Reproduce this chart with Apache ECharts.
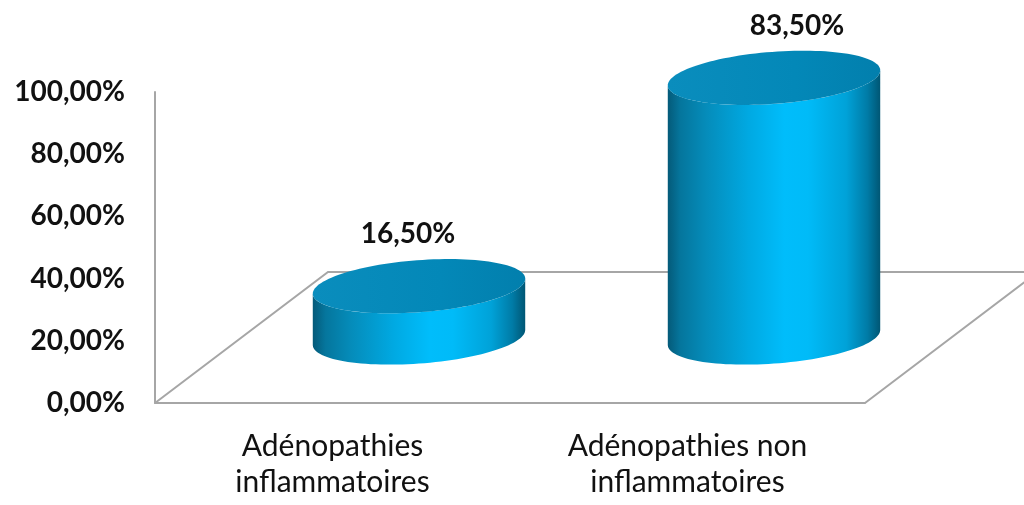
<!DOCTYPE html>
<html>
<head>
<meta charset="utf-8">
<script src="https://cdn.jsdelivr.net/npm/echarts@6/dist/echarts.min.js"></script>
<style>
  html, body { margin: 0; padding: 0; background: #fff; }
  #chart { width: 1024px; height: 505px; }
</style>
</head>
<body>
<div id="chart"></div>
<script>
// Share of lymphadenopathy types
const categories = ['Adénopathies\ninflammatoires', 'Adénopathies non\ninflammatoires'];
const shares = [16.5, 83.5];
const yTicks = [0, 20, 40, 60, 80, 100];

const FONT = 'Lato, "Open Sans", sans-serif';
const LINE = '#a6a6a6';
// floor depth vector (back edge of the floor relative to the front edge)
const DEPTH = [173, -131];
const TILT = -4.3 * Math.PI / 180;
const labelShift = [-11, 23];

function fmt(v) {
  return v.toFixed(2).replace('.', ',') + '%';
}

function ellipsePoint(cx, cy, a, b, t) {
  const c = Math.cos(TILT), s = Math.sin(TILT);
  return [
    cx + a * Math.cos(t) * c - b * Math.sin(t) * s,
    cy + a * Math.cos(t) * s + b * Math.sin(t) * c
  ];
}

function arc(cx, cy, a, b, t0, t1, n) {
  const pts = [];
  for (let k = 0; k <= n; k++) {
    pts.push(ellipsePoint(cx, cy, a, b, t0 + (t1 - t0) * k / n));
  }
  return pts;
}

function renderFloor(params, api) {
  const cs = params.coordSys;
  const fl = [cs.x, cs.y + cs.height];
  const fr = [cs.x + cs.width, cs.y + cs.height];
  const bl = [fl[0] + DEPTH[0], fl[1] + DEPTH[1]];
  const br = [fr[0] + DEPTH[0], fr[1] + DEPTH[1]];
  return {
    type: 'polyline',
    shape: { points: [fl, bl, br, fr] },
    style: { stroke: LINE, lineWidth: 2, fill: null },
    silent: true
  };
}

function renderCylinder(params, api) {
  const i = api.value(0);
  const v = api.value(1);
  const base = api.coord([i, 0]);
  const top = api.coord([i, v]);
  const band = api.size([1, 0])[0];
  const a = band * 0.3;
  const b = 26;
  const dx = DEPTH[0] / 2, dy = DEPTH[1] / 2;
  const cx = base[0] + dx;
  const by = base[1] + dy;
  const ty = top[1] + dy;

  // parameter of the right-most point of the tilted ellipse
  const tr = Math.atan(-b * Math.tan(TILT) / a);
  const tl = tr + Math.PI;
  const front = arc(cx, by, a, b, tr, tl, 60);
  const topFront = arc(cx, ty, a, b, tl, tr, 60);
  const body = front.concat(topFront);
  const cap = arc(cx, ty, a, b, 0, Math.PI * 2, 120);

  return {
    type: 'group',
    children: [
      {
        type: 'polygon',
        shape: { points: body },
        style: {
          fill: new echarts.graphic.LinearGradient(0, 0, 1, 0, [
            { offset: 0, color: '#045a79' },
            { offset: 0.06, color: '#05769d' },
            { offset: 0.18, color: '#058cba' },
            { offset: 0.38, color: '#00a9e2' },
            { offset: 0.55, color: '#00bdfb' },
            { offset: 0.66, color: '#00bbf8' },
            { offset: 0.84, color: '#00a2d8' },
            { offset: 0.94, color: '#007ba6' },
            { offset: 1, color: '#005674' }
          ])
        }
      },
      {
        type: 'polygon',
        shape: { points: cap },
        style: {
          fill: new echarts.graphic.LinearGradient(0, 0, 1, 0, [
            { offset: 0, color: '#0a8dbd' },
            { offset: 0.6, color: '#0388b8' },
            { offset: 1, color: '#027fad' }
          ])
        }
      },
      {
        type: 'text',
        style: {
          x: cx + labelShift[i],
          y: ty - 52,
          text: fmt(v),
          align: 'center',
          verticalAlign: 'middle',
          fill: '#111',
          font: 'bold 28px ' + FONT
        }
      }
    ]
  };
}

const chart = echarts.init(document.getElementById('chart'), null, { renderer: 'canvas' });
chart.setOption({
  animation: false,
  backgroundColor: '#ffffff',
  grid: { left: 155, right: 159, top: 92, bottom: 102, containLabel: false },
  xAxis: {
    type: 'category',
    data: categories,
    axisLine: { show: true, lineStyle: { color: LINE, width: 2 } },
    axisTick: { show: false },
    axisLabel: {
      margin: 25,
      color: '#111',
      fontFamily: FONT,
      fontSize: 30,
      lineHeight: 36,
      interval: 0
    },
    splitLine: { show: false }
  },
  yAxis: {
    type: 'value',
    min: yTicks[0],
    max: yTicks[yTicks.length - 1],
    interval: yTicks[1] - yTicks[0],
    axisLine: { show: true, lineStyle: { color: LINE, width: 2 } },
    axisTick: { show: false },
    splitLine: { show: false },
    axisLabel: {
      margin: 30,
      color: '#111',
      fontFamily: FONT,
      fontWeight: 'bold',
      fontSize: 28,
      formatter: fmt
    }
  },
  series: [
    {
      type: 'custom',
      renderItem: renderFloor,
      data: [[0, 0]],
      silent: true,
      clip: false
    },
    {
      type: 'custom',
      renderItem: renderCylinder,
      data: shares.map((v, i) => [i, v]),
      encode: { x: 0, y: 1 },
      clip: false
    }
  ]
});
</script>
</body>
</html>
